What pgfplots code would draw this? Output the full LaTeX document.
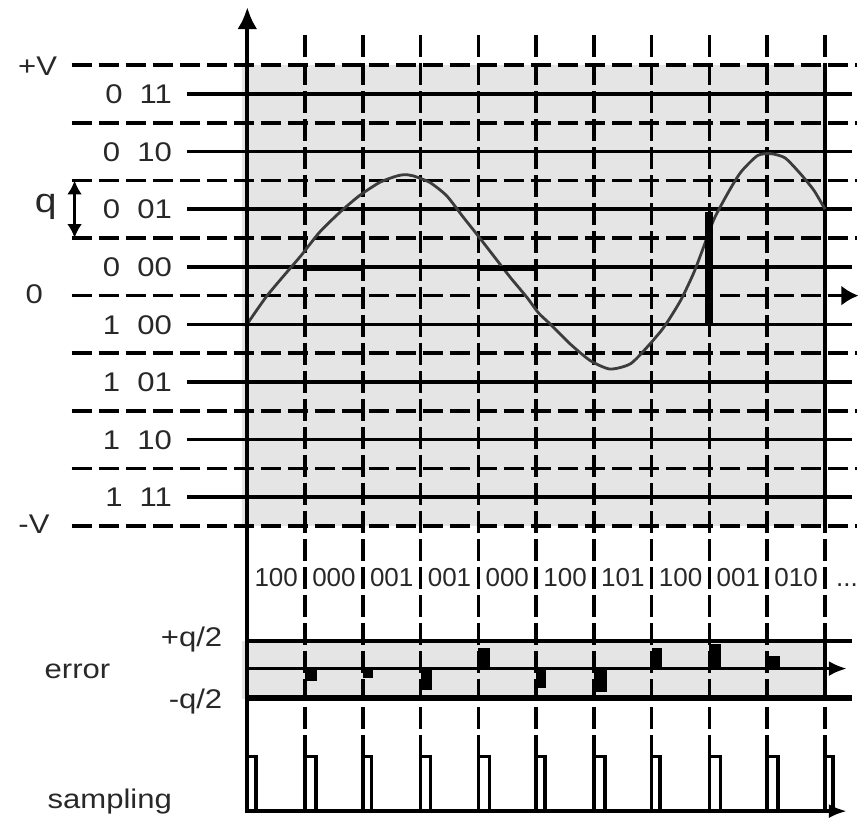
\documentclass[border=0pt]{standalone}
\usepackage{fontspec}
\setmainfont{Liberation Sans}
\newfontfamily\lab{Liberation Sans}[FakeStretch=1.15]
\newfontfamily\codef{Liberation Sans}
\usepackage{pgfplots}
\pgfplotsset{compat=1.18}
\usetikzlibrary{arrows.meta}
\definecolor{bg}{RGB}{229,229,229}
\definecolor{txt}{RGB}{40,40,40}
\definecolor{curvec}{RGB}{60,60,60}
\tikzset{
  hs/.style={black, line width=3.5bp},
  hd/.style={black, line width=3.5bp, dash pattern=on 20bp off 7bp},
  vd/.style={black, line width=3.6bp, dash pattern=on 22bp off 6bp},
  lbl/.style={inner sep=0pt, text=txt, font=\lab\fontsize{27bp}{30bp}\selectfont},
  cod/.style={inner sep=0pt, text=txt, font=\codef\fontsize{26bp}{30bp}\selectfont, anchor=base},
}
\begin{document}
\begin{tikzpicture}
\begin{axis}[x=57.77bp, y=28.8bp, xmin=-4.281, xmax=10.589, ymin=-18.137, ymax=10.266,
  hide axis, clip=false]
\coordinate (SW) at (rel axis cs:0,0);
\coordinate (NE) at (rel axis cs:1,1);
% gray backgrounds
\addplot[fill=bg, draw=none] coordinates {(-0.09,-8) (10,-8) (10,8) (-0.09,8)};
\addplot[fill=bg, draw=none] coordinates {(-0.09,-14) (10,-14) (10,-12) (-0.09,-12)};
% solid code levels
\addplot[hs] coordinates {(-1.04,7) (10.46,7)};
\addplot[hs] coordinates {(-1.04,5) (10.46,5)};
\addplot[hs] coordinates {(-1.04,3) (10.46,3)};
\addplot[hs] coordinates {(-1.04,1) (10.46,1)};
\addplot[hs] coordinates {(-1.04,-1) (10.46,-1)};
\addplot[hs] coordinates {(-1.04,-3) (10.46,-3)};
\addplot[hs] coordinates {(-1.04,-5) (10.46,-5)};
\addplot[hs] coordinates {(-1.04,-7) (10.46,-7)};
% dashed thresholds
\addplot[hd] coordinates {(-3.04,8) (10.55,8)};
\addplot[hd] coordinates {(-3.04,6) (10.55,6)};
\addplot[hd] coordinates {(-3.04,4) (10.55,4)};
\addplot[hd] coordinates {(-3.04,2) (10.55,2)};
\addplot[hd] coordinates {(-3.04,-2) (10.55,-2)};
\addplot[hd] coordinates {(-3.04,-4) (10.55,-4)};
\addplot[hd] coordinates {(-3.04,-6) (10.55,-6)};
\addplot[hd] coordinates {(-3.04,-8) (10.55,-8)};
\addplot[hd, -{Latex[length=17bp,width=20bp]}] coordinates {(-3.04,0) (10.58,0)};
% vertical dashed sample lines
\addplot[vd] coordinates {(1,9.05) (1,-16)};
\addplot[vd] coordinates {(2,9.05) (2,-16)};
\addplot[vd] coordinates {(3,9.05) (3,-16)};
\addplot[vd] coordinates {(4,9.05) (4,-16)};
\addplot[vd] coordinates {(5,9.05) (5,-16)};
\addplot[vd] coordinates {(6,9.05) (6,-16)};
\addplot[vd] coordinates {(7,9.05) (7,-16)};
\addplot[vd] coordinates {(8,9.05) (8,-16)};
\addplot[vd] coordinates {(9,9.05) (9,-16)};
\addplot[vd] coordinates {(10,9.05) (10,-16)};
\addplot[hs] coordinates {(10,8) (10,-8)};
\addplot[hs] coordinates {(10,-12) (10,-14)};
% signal
\addplot[curvec, line width=2.8bp, smooth, tension=0.4] coordinates {
(0.00,-0.98) (0.32,-0.06) (0.61,0.64) (0.93,1.39) (1.25,2.20) (1.60,2.89)
(1.94,3.47) (2.29,3.93) (2.58,4.15) (2.72,4.20) (2.87,4.16) (3.16,3.93)
(3.45,3.47) (3.74,2.72) (3.97,2.14) (4.26,1.39) (4.55,0.64) (4.84,-0.06)
(5.04,-0.60) (5.24,-0.98) (5.59,-1.68) (5.94,-2.26) (6.28,-2.55) (6.63,-2.37)
(6.92,-1.79) (7.21,-1.10) (7.50,-0.17) (7.73,0.80) (7.91,1.75) (8.08,2.66)
(8.31,3.53) (8.54,4.28) (8.83,4.86) (9.06,4.93) (9.31,4.78) (9.58,4.22)
(9.81,3.65) (10.00,3.00)};
% quantised holds
\addplot[black, line width=5bp] coordinates {(0.97,0.95) (1.97,0.95)};
\addplot[black, line width=5bp] coordinates {(3.97,0.95) (5.01,0.95)};
\addplot[black, line width=7.5bp] coordinates {(7.99,-0.98) (7.99,2.89)};
% error band
\addplot[hs] coordinates {(0,-12) (10.46,-12)};
\addplot[black, line width=5.7bp] coordinates {(0,-13.96) (10.46,-13.96)};
\addplot[fill=black, draw=none] coordinates {(1,-12.95) (1.2,-12.95) (1.2,-13.38) (1,-13.38)};
\addplot[fill=black, draw=none] coordinates {(2,-12.95) (2.17,-12.95) (2.17,-13.26) (2,-13.26)};
\addplot[fill=black, draw=none] coordinates {(3,-12.95) (3.2,-12.95) (3.2,-13.71) (3,-13.71)};
\addplot[fill=black, draw=none] coordinates {(4,-12.95) (4.2,-12.95) (4.2,-12.22) (4,-12.22)};
\addplot[fill=black, draw=none] coordinates {(5,-12.95) (5.17,-12.95) (5.17,-13.61) (5,-13.61)};
\addplot[fill=black, draw=none] coordinates {(6,-12.95) (6.22,-12.95) (6.22,-13.75) (6,-13.75)};
\addplot[fill=black, draw=none] coordinates {(7,-12.95) (7.17,-12.95) (7.17,-12.22) (7,-12.22)};
\addplot[fill=black, draw=none] coordinates {(8,-12.95) (8.2,-12.95) (8.2,-12.08) (8,-12.08)};
\addplot[fill=black, draw=none] coordinates {(9,-12.95) (9.22,-12.95) (9.22,-12.53) (9,-12.53)};
\addplot[hs, -{Latex[length=18bp,width=15bp]}] coordinates {(0,-12.95) (10.38,-12.95)};
% sampling pulses
\addplot[hs] coordinates {(0,-17.9) (0,-16) (0.15,-16) (0.15,-17.9)};
\addplot[hs] coordinates {(1,-17.9) (1,-16) (1.19,-16) (1.19,-17.9)};
\addplot[hs] coordinates {(2,-17.9) (2,-16) (2.15,-16) (2.15,-17.9)};
\addplot[hs] coordinates {(3,-17.9) (3,-16) (3.17,-16) (3.17,-17.9)};
\addplot[hs] coordinates {(4,-17.9) (4,-16) (4.19,-16) (4.19,-17.9)};
\addplot[hs] coordinates {(5,-17.9) (5,-16) (5.15,-16) (5.15,-17.9)};
\addplot[hs] coordinates {(6,-17.9) (6,-16) (6.19,-16) (6.19,-17.9)};
\addplot[hs] coordinates {(7,-17.9) (7,-16) (7.14,-16) (7.14,-17.9)};
\addplot[hs] coordinates {(8,-17.9) (8,-16) (8.19,-16) (8.19,-17.9)};
\addplot[hs] coordinates {(9,-17.9) (9,-16) (9.19,-16) (9.19,-17.9)};
\addplot[hs] coordinates {(10,-17.9) (10,-16) (10.14,-16) (10.14,-17.9)};
\addplot[hs, -{Latex[length=18bp,width=14bp]}] coordinates {(0,-17.9) (10.38,-17.9)};
% main vertical axis
\addplot[black, line width=4.3bp, -{Latex[length=22bp,width=20bp]}] coordinates {(0,-17.95) (0,10.02)};
% double arrow q
\addplot[black, line width=3.5bp, {Latex[length=14bp,width=15bp]}-{Latex[length=14bp,width=15bp]}] coordinates {(-2.99,4) (-2.99,2)};
% left labels
\node[lbl, anchor=base east] at (-3.29,7.66) {+V};
\node[lbl, anchor=base east] at (-1.30,6.665) {0\ \ 11};
\node[lbl, anchor=base east] at (-1.30,4.665) {0\ \ 10};
\node[lbl, anchor=base east] at (-1.30,2.665) {0\ \ 01};
\node[lbl, anchor=base east] at (-1.30,0.665) {0\ \ 00};
\node[lbl, anchor=base east] at (-1.30,-1.335) {1\ \ 00};
\node[lbl, anchor=base east] at (-1.30,-3.335) {1\ \ 01};
\node[lbl, anchor=base east] at (-1.30,-5.335) {1\ \ 10};
\node[lbl, anchor=base east] at (-1.30,-7.335) {1\ \ 11};
\node[lbl, anchor=base] at (-3.69,-0.27) {0};
\node[lbl, anchor=base east] at (-3.42,-8.25) {-V};
\node[lbl, anchor=base, font=\lab\fontsize{34bp}{36bp}\selectfont] at (-3.49,2.87) {q};
\node[lbl, anchor=base] at (-2.94,-13.30) {error};
\node[lbl, anchor=base east] at (-0.43,-12.19) {+q/2};
\node[lbl, anchor=base east] at (-0.43,-14.33) {-q/2};
\node[lbl, anchor=base] at (-2.38,-17.8) {sampling};
% code labels
\node[cod] at (0.5,-10.1) {100};
\node[cod] at (1.5,-10.1) {000};
\node[cod] at (2.5,-10.1) {001};
\node[cod] at (3.5,-10.1) {001};
\node[cod] at (4.5,-10.1) {000};
\node[cod] at (5.5,-10.1) {100};
\node[cod] at (6.5,-10.1) {101};
\node[cod] at (7.5,-10.1) {100};
\node[cod] at (8.5,-10.1) {001};
\node[cod] at (9.5,-10.1) {010};
\node[cod, anchor=base west] at (10.19,-10.1) {...};
\end{axis}
\pgfresetboundingbox
\useasboundingbox (SW) rectangle (NE);
\end{tikzpicture}
\end{document}
